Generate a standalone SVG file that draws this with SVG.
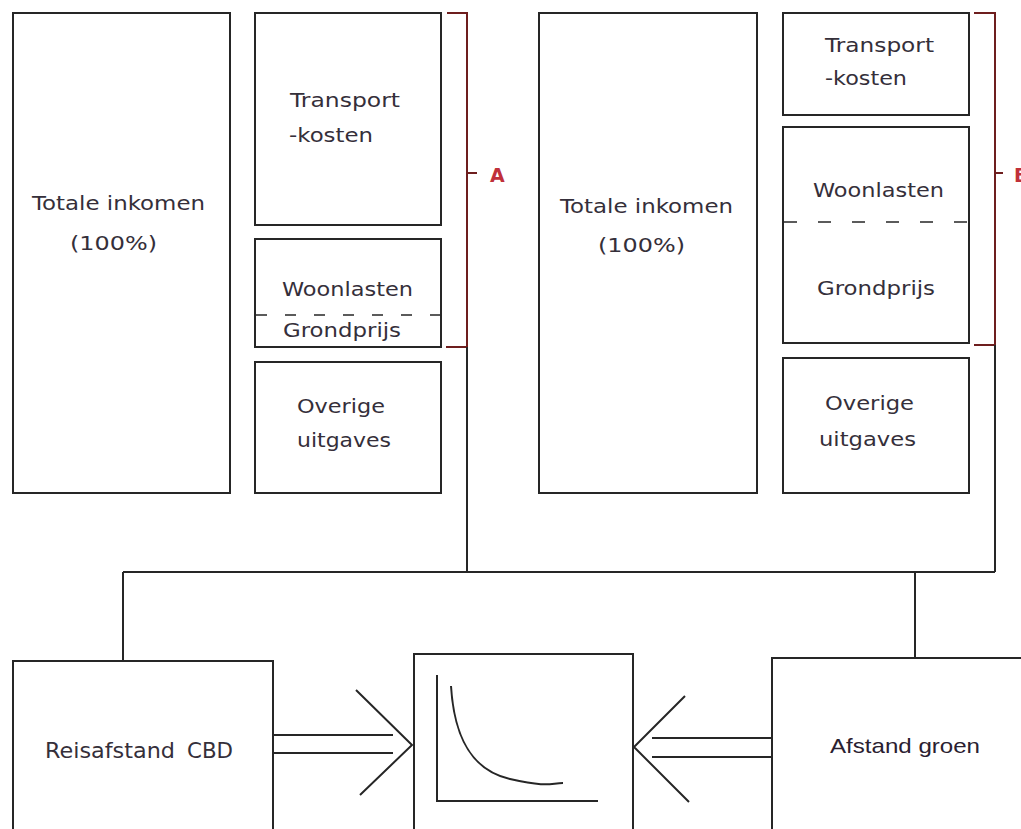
<svg xmlns="http://www.w3.org/2000/svg" width="1021" height="829" viewBox="0 0 1021 829">
<style>
.box{fill:#fff;stroke:#262626;stroke-width:2}
.ln{fill:none;stroke:#262626;stroke-width:2}
.br{fill:none;stroke:#6e1e1e;stroke-width:2}
.t{font-family:"DejaVu Sans",Tahoma,sans-serif;font-size:20px;fill:#352f3a}
.lab{font-family:"DejaVu Sans",sans-serif;font-size:19px;font-weight:bold;fill:#c0303a}
.dash{fill:none;stroke:#262626;stroke-width:1.6}
</style>
<rect width="1021" height="829" fill="#fff"/>
<g id="connectors">
<path class="br" d="M447,13 H467 V347 H446 M467,173 H477"/>
<path class="br" d="M974,13 H995 V345 H974 M995,173 H1003"/>
<path class="ln" d="M467,347 V572 M995,345 V572 M123,572 H995 M123,572 V661 M915,572 V658"/>
<path class="ln" d="M273,735 H393 M273,753 H393 M356,690 L412,745 L360,795"/>
<path class="ln" d="M772,738 H652 M772,757 H652 M685,696 L634,747 L689,802"/>
</g>
<g id="label-A"><text class="lab" x="490" y="182">A</text></g>
<g id="label-B"><text class="lab" x="1014" y="182">B</text></g>
<g id="totale-a">
<rect class="box" x="13" y="13" width="217" height="480"/>
<text class="t" x="32" y="210" textLength="173" lengthAdjust="spacingAndGlyphs">Totale inkomen</text>
<text class="t" x="70" y="250" textLength="87" lengthAdjust="spacingAndGlyphs">(100%)</text>
</g>
<g id="transport-a">
<rect class="box" x="255" y="13" width="186" height="212"/>
<text class="t" x="290" y="107" textLength="110" lengthAdjust="spacingAndGlyphs">Transport</text>
<text class="t" x="289" y="142" textLength="84" lengthAdjust="spacingAndGlyphs">-kosten</text>
</g>
<g id="woonlasten-a">
<rect class="box" x="255" y="239" width="186" height="108"/>
<line class="dash" x1="256" y1="315" x2="441" y2="315" stroke-dasharray="11 18"/>
<text class="t" x="282" y="296" textLength="131" lengthAdjust="spacingAndGlyphs">Woonlasten</text>
<text class="t" x="283" y="337" textLength="118" lengthAdjust="spacingAndGlyphs">Grondprijs</text>
</g>
<g id="overige-a">
<rect class="box" x="255" y="362" width="186" height="131"/>
<text class="t" x="297" y="413" textLength="88" lengthAdjust="spacingAndGlyphs">Overige</text>
<text class="t" x="297" y="447" textLength="94" lengthAdjust="spacingAndGlyphs">uitgaves</text>
</g>
<g id="totale-b">
<rect class="box" x="539" y="13" width="218" height="480"/>
<text class="t" x="560" y="213" textLength="173" lengthAdjust="spacingAndGlyphs">Totale inkomen</text>
<text class="t" x="598" y="252" textLength="87" lengthAdjust="spacingAndGlyphs">(100%)</text>
</g>
<g id="transport-b">
<rect class="box" x="783" y="13" width="186" height="102"/>
<text class="t" x="825" y="52" textLength="109" lengthAdjust="spacingAndGlyphs">Transport</text>
<text class="t" x="825" y="85" textLength="82" lengthAdjust="spacingAndGlyphs">-kosten</text>
</g>
<g id="woonlasten-b">
<rect class="box" x="783" y="127" width="186" height="216"/>
<line class="dash" x1="784" y1="222" x2="969" y2="222" stroke-dasharray="13 21"/>
<text class="t" x="813" y="197" textLength="131" lengthAdjust="spacingAndGlyphs">Woonlasten</text>
<text class="t" x="817" y="295" textLength="118" lengthAdjust="spacingAndGlyphs">Grondprijs</text>
</g>
<g id="overige-b">
<rect class="box" x="783" y="358" width="186" height="135"/>
<text class="t" x="825" y="410" textLength="89" lengthAdjust="spacingAndGlyphs">Overige</text>
<text class="t" x="819" y="446" textLength="97" lengthAdjust="spacingAndGlyphs">uitgaves</text>
</g>
<g id="reisafstand">
<rect class="box" x="13" y="661" width="260" height="190"/>
<text class="t" y="758" style="font-size:21px"><tspan x="45" textLength="130" lengthAdjust="spacingAndGlyphs">Reisafstand</tspan><tspan x="187" textLength="46" lengthAdjust="spacingAndGlyphs">CBD</tspan></text>
</g>
<g id="graph">
<rect class="box" x="414" y="654" width="219" height="200"/>
<path class="ln" d="M437,675 V801 H598"/>
<path class="ln" d="M451,686 C454,735 470,770 510,779 S550,783 563,783"/>
</g>
<g id="afstand-groen">
<rect class="box" x="772" y="658" width="270" height="200"/>
<text x="830" y="753" textLength="150" lengthAdjust="spacingAndGlyphs" style="font-family:'Liberation Sans',Arial,sans-serif;font-size:21px;fill:#2a2030">Afstand groen</text>
</g>
</svg>
